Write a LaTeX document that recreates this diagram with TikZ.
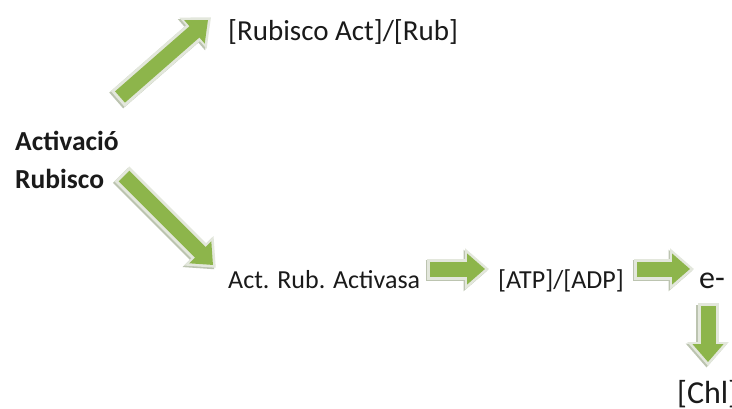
\documentclass[tikz,border=0pt]{standalone}
\usepackage{fontspec}
\setmainfont{Carlito}
\usetikzlibrary{arrows.meta}
\definecolor{arrgreen}{HTML}{8DB54B}
\definecolor{arrshade}{HTML}{E3E7DC}
\definecolor{arredge}{HTML}{BCC4B0}
\definecolor{txt}{HTML}{1A1A1A}
\tikzset{
 lbl/.style={anchor=base west, inner sep=0pt, font=\fontsize{26}{30}\selectfont, text=txt},
 toplbl/.style={anchor=base west, inner sep=0pt, font=\fontsize{29}{34}\selectfont, text=txt},
 blbl/.style={anchor=base west, inner sep=0pt, font=\fontsize{27.5}{32}\selectfont\bfseries, text=txt},
 biglbl/.style={anchor=base west, inner sep=0pt, font=\fontsize{32}{36}\selectfont, text=txt},
 blockarrow/.style={draw=arrgreen, line width=15pt, -{Triangle[width=30pt,length=18pt]},
   preaction={draw=arredge, line width=21pt, shorten >=-4pt, shorten <=-3pt,
     -{Triangle[width=40pt,length=24pt]}, transform canvas={shift={(-1.5pt,-1.5pt)}}},
   preaction={draw=arrshade, line width=21pt, shorten >=-4pt, shorten <=-3pt,
     -{Triangle[width=40pt,length=24pt]}}},
}
\begin{document}
\begin{tikzpicture}[x=1pt,y=-1pt]
\useasboundingbox[fill=white] (0,0) rectangle (732,408);
\node[toplbl] (rub) at (228,40) {[Rubisco Act]/[Rub]};
\node[blbl] (act1) at (15,150) {Activació};
\node[blbl] (act2) at (15,188) {Rubisco};
\node[lbl] (rca) at (228,288) {Act. Rub. Activasa};
\node[lbl] (atp) at (498,288) {[ATP]/[ADP]};
\node[biglbl] (e) at (699,288) {e-};
\node[biglbl] (chl) at (677,403) {[Chl]};
\coordinate (a1s) at (120,97);
\coordinate (a1e) at (208,20);
\coordinate (a2s) at (124,176);
\coordinate (a2e) at (213,265);
\coordinate (a3s) at (430,269);
\coordinate (a3e) at (485,269);
\coordinate (a4s) at (637,269);
\coordinate (a4e) at (690,269);
\coordinate (a5s) at (708,306);
\coordinate (a5e) at (708,362);
\draw[blockarrow] (a1s) -- (a1e);
\draw[blockarrow] (a2s) -- (a2e);
\draw[blockarrow] (a3s) -- (a3e);
\draw[blockarrow] (a4s) -- (a4e);
\draw[blockarrow] (a5s) -- (a5e);
\end{tikzpicture}
\end{document}
